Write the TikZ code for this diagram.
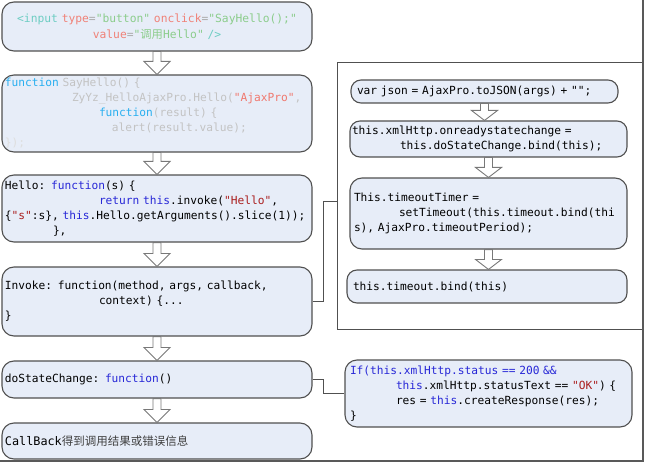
\documentclass[tikz,border=0pt]{standalone}
\usepackage{fontspec}
\setmonofont{DejaVu Sans Mono}
\newfontfamily\cjk{Noto Sans CJK SC}
\usetikzlibrary{calc}
\newcommand\monosz[2]{\ttfamily\fontsize{#1}{#2}\selectfont\fontdimen2\font=0.602em\fontdimen3\font=0pt\fontdimen4\font=0pt\relax}
\definecolor{boxfill}{RGB}{231,237,248}
\definecolor{boxline}{RGB}{80,80,80}
\definecolor{arrline}{RGB}{120,120,120}
\definecolor{kw}{RGB}{40,40,215}
\definecolor{str}{RGB}{170,30,30}
\definecolor{tagc}{RGB}{110,205,195}
\definecolor{attrc}{RGB}{240,130,120}
\definecolor{valc}{RGB}{140,205,140}
\definecolor{eqc}{RGB}{170,170,170}
\definecolor{fnc}{RGB}{40,175,240}
\definecolor{lg}{RGB}{195,195,195}
\definecolor{llg}{RGB}{222,222,222}
\definecolor{strl}{RGB}{240,120,110}
\newcommand\blockarrow[3]{%
  \path (#1.south) coordinate (ba-top) (#1.south |- #2.north) coordinate (ba-tip);
  \draw[barrow] ($(ba-top)+(-4,0)$) -- ($(ba-tip)+(-4,-#3)$) -- ($(ba-tip)+(-13,-#3)$)
    -- (ba-tip) -- ($(ba-tip)+(13,-#3)$) -- ($(ba-tip)+(4,-#3)$) -- ($(ba-top)+(4,0)$) -- cycle;}
\begin{document}
\begin{tikzpicture}[x=1pt,y=-1pt,
  box/.style={draw=boxline, fill=boxfill, line width=1.1pt, rounded corners=12pt,
    inner xsep=3pt, inner ysep=0pt, align=left, text=black,
    font=\monosz{11.2}{15}},
  pill/.style={box, rounded corners=10pt},
  barrow/.style={draw=arrline, fill=white, line width=0.9pt, line join=miter},
  conn/.style={draw=boxline, line width=0.9pt},
  frame/.style={draw=boxline, line width=0.9pt, inner sep=0pt},
  shadowline/.style={draw=black!65, line width=2pt}]
\useasboundingbox (0,0) rectangle (647,465);

% left column
\node[box, align=center, text width=304pt, minimum height=49pt, font=\monosz{11.3}{16}] (b1) at (157,26.5)
 {{\color{tagc}<input} {\color{attrc}type}{\color{eqc}=}{\color{valc}"button"} {\color{attrc}onclick}{\color{eqc}=}{\color{valc}"SayHello();"}\\
  {\color{attrc}value}{\color{eqc}=}{\color{valc}"{\cjk 调用}Hello"} {\color{tagc}/>}};

\node[box, text width=304pt, minimum height=77pt, font=\monosz{11.2}{15}] (b2) at (157,113.5)
 {{\color{fnc}function} {\color{lg}SayHello() \{}\\
  \hspace*{67pt}{\color{lg}ZyYz\_HelloAjaxPro.Hello(}{\color{strl}"AjaxPro"}{\color{lg},}\\
  \hspace*{94pt}{\color{fnc}function}{\color{lg}(result) \{}\\
  \hspace*{107pt}{\color{lg}alert(result.value);}\\
  {\color{llg}\});}};

\node[box, text width=304pt, minimum height=67pt] (b3) at (157,208.5)
 {Hello: {\color{kw}function}(s) \{\\
  \hspace*{94pt}{\color{kw}return this}.invoke({\color{str}"Hello"},\\
  \{{\color{str}"s"}:s\}, {\color{kw}this}.Hello.getArguments().slice(1));\\
  \hspace*{48pt}\},};

\node[box, text width=304pt, minimum height=69pt] (b4) at (157,301.5)
 {Invoke: function(method, args, callback,\\
  \hspace*{94pt}context) \{...\\
  \}};

\node[box, text width=304pt, minimum height=37pt] (b5) at (157,379.5)
 {doStateChange: {\color{kw}function}()};

\node[box, text width=304pt, minimum height=36pt] (b6) at (157,441)
 {{\fontsize{11.8}{15}\selectfont CallBack}{\cjk\fontsize{11.5}{15}\selectfont\color{black!75}得到调用结果或错误信息}};

% right group
\node[frame, minimum width=305pt, minimum height=267pt] (grp) at (489.5,195.5) {};

\node[pill, inner xsep=6pt, text width=255pt, minimum height=23pt] (r1) at (484.5,91.5)
 {var json = AjaxPro.toJSON(args) + "";};
\node[pill, inner xsep=2pt, text width=273pt, minimum height=36pt] (r2) at (488.5,139)
 {this.xmlHttp.onreadystatechange =\\
  \hspace*{48pt}this.doStateChange.bind(this);};
\node[box, inner xsep=4pt, text width=269pt, minimum height=71pt] (r3) at (488.5,213.5)
 {This.timeoutTimer =\\
  \hspace*{45pt}setTimeout(this.timeout.bind(thi\\
  s), AjaxPro.timeoutPeriod);};
\node[pill, inner xsep=6pt, text width=268pt, minimum height=33pt] (r4) at (487,286.5)
 {this.timeout.bind(this)};

\node[box, inner xsep=5pt, text width=277pt, minimum height=67pt] (ifb) at (488.5,393.5)
 {{\color{kw}If(this.xmlHttp.status == 200 \&\&}\\
  \hspace*{46pt}{\color{kw}this}.xmlHttp.statusText == {\color{str}"OK"}) \{\\
  \hspace*{46pt}res = {\color{kw}this}.createResponse(res);\\
  \}};

% block arrows
\blockarrow{b1}{b2}{13}
\blockarrow{b2}{b3}{13}
\blockarrow{b3}{b4}{13}
\blockarrow{b4}{b5}{13}
\blockarrow{b5}{b6}{13}
\blockarrow{r1}{r2}{10}
\blockarrow{r2}{r3}{10}
\blockarrow{r3}{r4}{10}

% connectors
\draw[conn] (b4.east) -- ++(11,0) |- ([yshift=-6pt]grp.west);
\draw[conn] (b5.east) -- ++(11,0) |- (ifb.west);

% image shadow
\draw[shadowline] (642.5,0) -- (642.5,462);
\draw[shadowline] (0,461) -- (643.5,461);
\end{tikzpicture}
\end{document}
